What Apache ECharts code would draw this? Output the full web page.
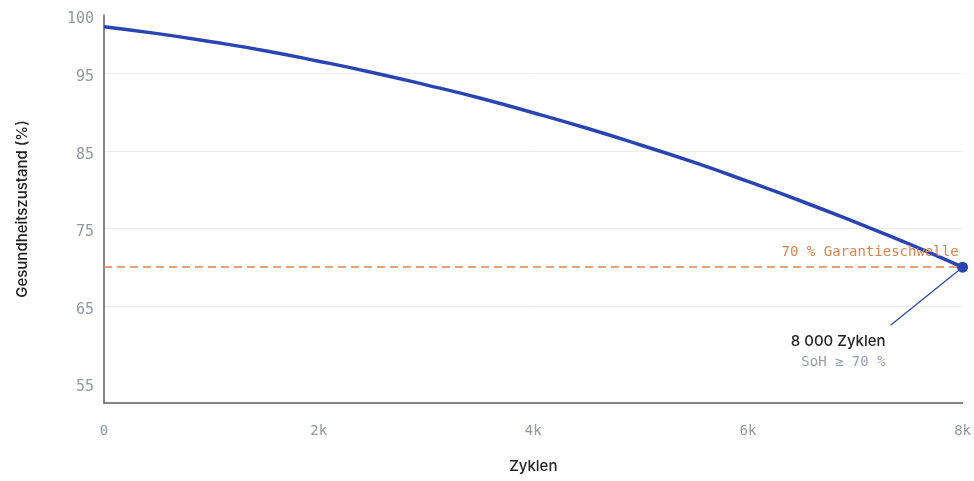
<!DOCTYPE html>
<html>
<head>
<meta charset="utf-8">
<script src="https://cdn.jsdelivr.net/npm/echarts@6/dist/echarts.min.js"></script>
<style>
  html, body { margin: 0; padding: 0; background: #ffffff; }
  #chart { width: 974px; height: 481px; }
</style>
</head>
<body>
<div id="chart"></div>
<script>
// Battery state of health over charge cycles
const cycles = [0, 500, 1000, 1500, 2000, 2500, 3000, 3500, 4000, 4500, 5000, 5500, 6000, 6500, 7000, 7500, 8000];
const soh = [101.0, 100.1, 99.05, 97.9, 96.55, 95.1, 93.5, 91.8, 89.9, 87.9, 85.75, 83.5, 81.05, 78.5, 75.8, 73.0, 70.0];

// Warranty threshold
const thresholdValue = 70;
const thresholdLabel = '70 % Garantieschwelle';

// Axis ticks
const yTickValues = [55, 65, 75, 85, 95, 102.5];
const yTickLabels = ['55', '65', '75', '85', '95', '100'];
const yGridValues = [65, 75, 85, 95];
const xTickValues = [0, 2000, 4000, 6000, 8000];
const xTickLabels = ['0', '2k', '4k', '6k', '8k'];

// End-of-range annotation
const endTitle = '8 000 Zyklen';
const endSubtitle = 'SoH \u2265 70 %';

const BLUE = '#2a45b2';
const ORANGE = '#d9844f';
const MONO = '"DejaVu Sans Mono", monospace';
const SANS = 'Inter, "Noto Sans", sans-serif';

const chart = echarts.init(document.getElementById('chart'), null, { renderer: 'canvas' });

const points = cycles.map((c, i) => [c, soh[i]]);
const lastPoint = points[points.length - 1];

chart.setOption({
  animation: false,
  backgroundColor: '#ffffff',
  grid: { left: 104, right: 5, top: 15, bottom: 78, containLabel: false },
  xAxis: {
    type: 'value',
    min: 0,
    max: 8000,
    name: 'Zyklen',
    nameLocation: 'middle',
    nameGap: 56,
    nameTextStyle: { fontFamily: SANS, fontSize: 15, fontWeight: 500, color: '#222222' },
    axisLine: { show: true, lineStyle: { color: '#5d5d63', width: 1.5 } },
    axisTick: { show: false },
    splitLine: { show: false },
    axisLabel: {
      customValues: xTickValues,
      margin: 21,
      fontFamily: MONO,
      fontSize: 14,
      color: '#9297a3',
      formatter: v => xTickLabels[xTickValues.indexOf(v)] ?? ''
    }
  },
  yAxis: {
    type: 'value',
    min: 52.5,
    max: 102.5,
    name: 'Gesundheitszustand (%)',
    nameLocation: 'middle',
    nameGap: 74,
    nameTextStyle: { fontFamily: SANS, fontSize: 15, fontWeight: 500, color: '#222222' },
    axisLine: { show: true, lineStyle: { color: '#5d5d63', width: 1.5 } },
    axisTick: { show: false, customValues: yGridValues },
    splitLine: { show: true, lineStyle: { color: '#ececef', width: 1 } },
    axisLabel: {
      customValues: yTickValues,
      margin: 10,
      verticalAlign: 'top',
      lineHeight: 8,
      fontFamily: MONO,
      fontSize: 15,
      color: '#9297a3',
      formatter: v => yTickLabels[yTickValues.indexOf(v)] ?? ''
    }
  },
  series: [
    {
      type: 'line',
      data: points,
      smooth: true,
      showSymbol: false,
      lineStyle: { color: BLUE, width: 3.5 },
      z: 3,
      markLine: {
        silent: true,
        symbol: 'none',
        lineStyle: { color: ORANGE, type: [8, 5], width: 1.5 },
        label: {
          show: true,
          position: 'insideEndTop',
          distance: [4, 8],
          formatter: thresholdLabel,
          fontFamily: MONO,
          fontSize: 14,
          color: ORANGE
        },
        data: [{ yAxis: thresholdValue }]
      }
    },
    {
      type: 'scatter',
      data: [lastPoint],
      symbol: 'circle',
      symbolSize: 11,
      itemStyle: { color: BLUE, opacity: 1 },
      z: 5
    }
  ]
});

// Leader line and caption attached to the last data point
const [px, py] = chart.convertToPixel({ gridIndex: 0 }, lastPoint);
chart.setOption({
  graphic: [
    {
      type: 'line',
      shape: { x1: px, y1: py, x2: px - 72, y2: py + 58 },
      style: { stroke: BLUE, lineWidth: 1.2 },
      z: 4
    },
    {
      type: 'text',
      x: px - 77,
      y: py + 74,
      style: {
        text: endTitle,
        fontFamily: SANS,
        fontSize: 15,
        fontWeight: 500,
        fill: '#222222',
        align: 'right',
        verticalAlign: 'middle'
      }
    },
    {
      type: 'text',
      x: px - 77,
      y: py + 95,
      style: {
        text: endSubtitle,
        fontFamily: MONO,
        fontSize: 14,
        fill: '#9a9ea9',
        align: 'right',
        verticalAlign: 'middle'
      }
    }
  ]
});
</script>
</body>
</html>
